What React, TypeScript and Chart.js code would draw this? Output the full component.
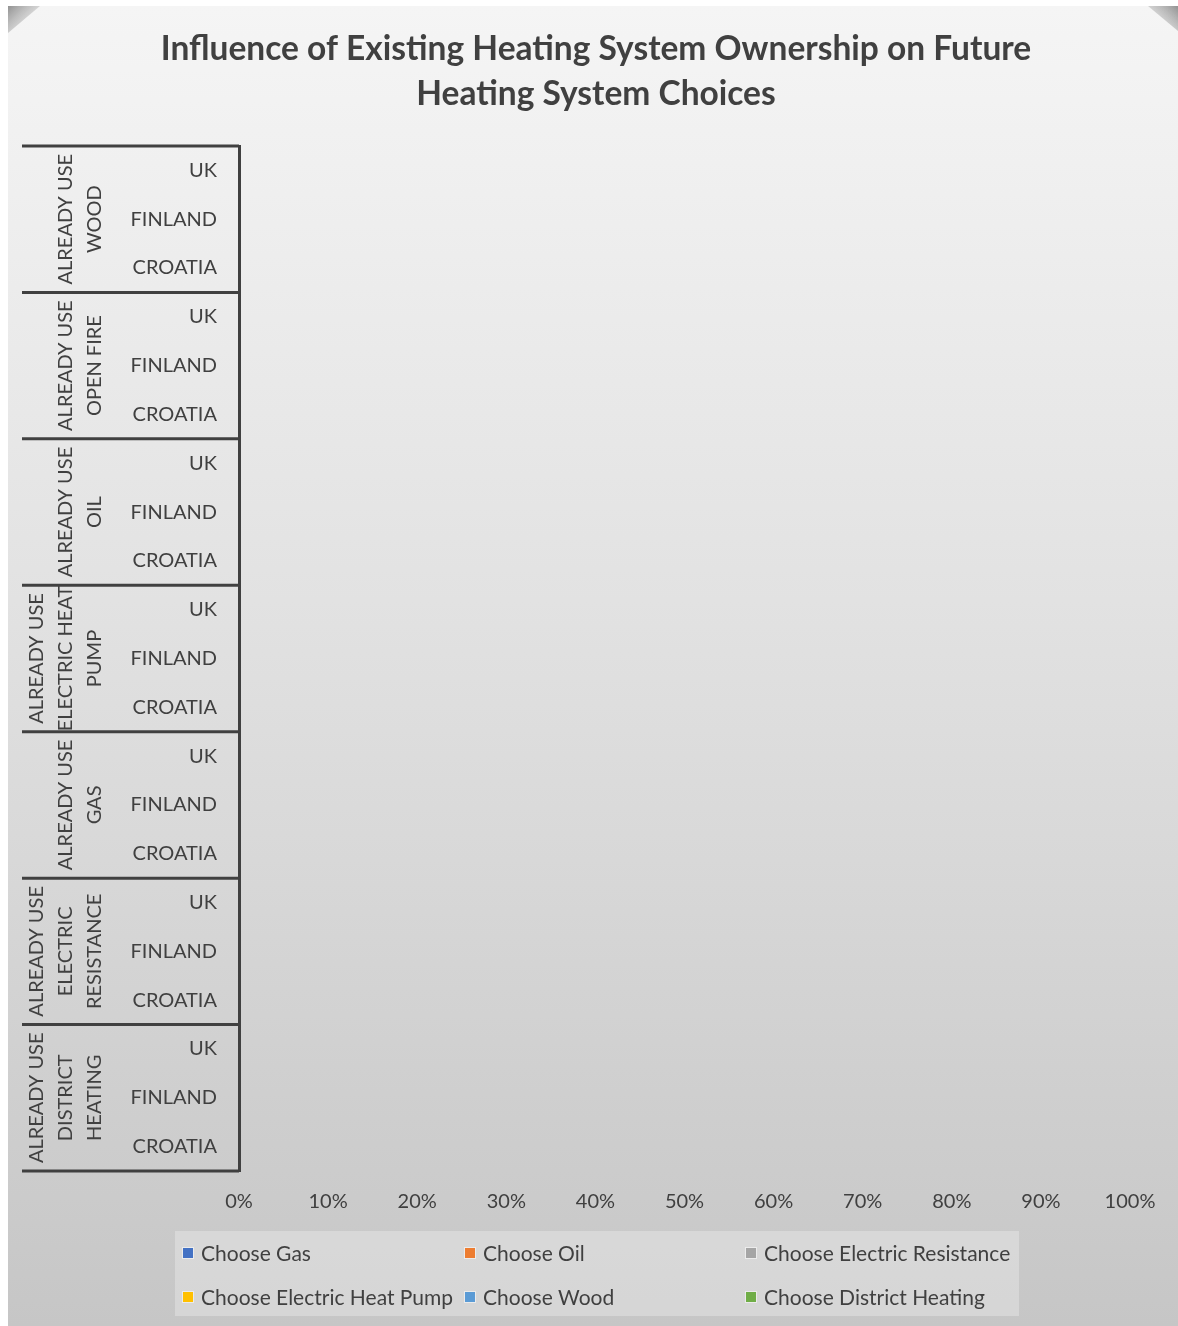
import React, { useEffect, useRef } from "react";
import { Chart, registerables } from "chart.js";

Chart.register(...registerables);

const titleLines = [
  "Influence of Existing Heating System Ownership on Future",
  "Heating System Choices",
];

const countries = ["UK", "FINLAND", "CROATIA"];

const groupLabels: string[][] = [
  ["ALREADY USE", "WOOD"],
  ["ALREADY USE", "OPEN FIRE"],
  ["ALREADY USE", "OIL"],
  ["ALREADY USE", "ELECTRIC HEAT", "PUMP"],
  ["ALREADY USE", "GAS"],
  ["ALREADY USE", "ELECTRIC", "RESISTANCE"],
  ["ALREADY USE", "DISTRICT", "HEATING"],
];

const xTicks = [0, 10, 20, 30, 40, 50, 60, 70, 80, 90, 100];

// Values (%) per category, top to bottom. No bars are visible in the reference.
const chooseGas = [0, 0, 0, 0, 0, 0, 0, 0, 0, 0, 0, 0, 0, 0, 0, 0, 0, 0, 0, 0, 0];
const chooseOil = [0, 0, 0, 0, 0, 0, 0, 0, 0, 0, 0, 0, 0, 0, 0, 0, 0, 0, 0, 0, 0];
const chooseElectricResistance = [0, 0, 0, 0, 0, 0, 0, 0, 0, 0, 0, 0, 0, 0, 0, 0, 0, 0, 0, 0, 0];
const chooseElectricHeatPump = [0, 0, 0, 0, 0, 0, 0, 0, 0, 0, 0, 0, 0, 0, 0, 0, 0, 0, 0, 0, 0];
const chooseWood = [0, 0, 0, 0, 0, 0, 0, 0, 0, 0, 0, 0, 0, 0, 0, 0, 0, 0, 0, 0, 0];
const chooseDistrictHeating = [0, 0, 0, 0, 0, 0, 0, 0, 0, 0, 0, 0, 0, 0, 0, 0, 0, 0, 0, 0, 0];

const seriesNames = [
  "Choose Gas",
  "Choose Oil",
  "Choose Electric Resistance",
  "Choose Electric Heat Pump",
  "Choose Wood",
  "Choose District Heating",
];
const seriesColors = ["#4472C4", "#ED7D31", "#A5A5A5", "#FFC000", "#5B9BD5", "#70AD47"];
const seriesValues = [
  chooseGas,
  chooseOil,
  chooseElectricResistance,
  chooseElectricHeatPump,
  chooseWood,
  chooseDistrictHeating,
];

const FONT = "Lato, 'Open Sans', sans-serif";
const TEXT = "#404040";

const decorPlugin = {
  id: "decor",
  beforeDraw(chart: any) {
    const ctx = chart.ctx;
    const W = chart.width;
    ctx.save();
    // bevel corner triangles
    const g1 = ctx.createLinearGradient(0, 0, 22, 22);
    g1.addColorStop(0, "rgba(140,140,140,0.95)");
    g1.addColorStop(1, "rgba(190,190,190,0.3)");
    ctx.fillStyle = g1;
    ctx.beginPath();
    ctx.moveTo(0, 0);
    ctx.lineTo(32, 0);
    ctx.lineTo(0, 27);
    ctx.closePath();
    ctx.fill();
    const g2 = ctx.createLinearGradient(W, 0, W - 22, 22);
    g2.addColorStop(0, "rgba(140,140,140,0.95)");
    g2.addColorStop(1, "rgba(190,190,190,0.3)");
    ctx.fillStyle = g2;
    ctx.beginPath();
    ctx.moveTo(W, 0);
    ctx.lineTo(W - 30, 0);
    ctx.lineTo(W, 25);
    ctx.closePath();
    ctx.fill();
    // title
    ctx.fillStyle = TEXT;
    ctx.font = `bold 33.5px ${FONT}`;
    ctx.textAlign = "center";
    ctx.textBaseline = "middle";
    titleLines.forEach((t, i) => ctx.fillText(t, 588, 43 + i * 45));
    ctx.restore();
  },
  afterDraw(chart: any) {
    const ctx = chart.ctx;
    const y = chart.scales.y;
    const n = countries.length;
    const total = chart.data.labels.length;
    ctx.save();
    // group separators
    ctx.strokeStyle = TEXT;
    ctx.lineWidth = 3;
    for (let i = 0; i <= total; i += n) {
      let py: number;
      if (i === 0) py = y.top;
      else if (i === total) py = y.bottom;
      else py = (y.getPixelForTick(i - 1) + y.getPixelForTick(i)) / 2;
      ctx.beginPath();
      ctx.moveTo(14, py);
      ctx.lineTo(y.right, py);
      ctx.stroke();
    }
    // group labels (rotated)
    ctx.fillStyle = TEXT;
    ctx.font = `20px ${FONT}`;
    ctx.textAlign = "center";
    ctx.textBaseline = "middle";
    groupLabels.forEach((lines, gi) => {
      const cy = y.getPixelForTick(gi * n + 1);
      lines.forEach((line, li) => {
        const cx = 87 - (lines.length - 1 - li) * 29;
        ctx.save();
        ctx.translate(cx, cy);
        ctx.rotate(-Math.PI / 2);
        ctx.fillText(line, 0, 0);
        ctx.restore();
      });
    });
    // legend
    const lx = 167, ly = 1225, lw = 844, lh = 85;
    ctx.fillStyle = "rgba(255,255,255,0.28)";
    ctx.fillRect(lx, ly, lw, lh);
    const colX = [175, 457, 738];
    const rowY = [1247, 1291];
    ctx.textAlign = "left";
    ctx.font = `21px ${FONT}`;
    chart.data.datasets.forEach((ds: any, i: number) => {
      const cx = colX[i % 3];
      const cy = rowY[Math.floor(i / 3)];
      ctx.fillStyle = "rgba(255,255,255,0.5)";
      ctx.fillRect(cx - 1, cy - 6, 12, 12);
      ctx.fillStyle = ds.backgroundColor;
      ctx.fillRect(cx, cy - 5, 10, 10);
      ctx.fillStyle = TEXT;
      ctx.fillText(ds.label, cx + 18, cy + 1);
    });
    ctx.restore();
  },
};

export default function App() {
  const ref = useRef<HTMLCanvasElement | null>(null);
  useEffect(() => {
    if (!ref.current) return;
    const labels: string[] = [];
    groupLabels.forEach(() => countries.forEach((c) => labels.push(c)));
    const chart = new Chart(ref.current, {
      type: "bar",
      data: {
        labels,
        datasets: seriesNames.map((name, i) => ({
          label: name,
          data: seriesValues[i],
          backgroundColor: seriesColors[i],
          borderWidth: 0,
        })),
      },
      options: {
        indexAxis: "y",
        responsive: false,
        animation: false,
        devicePixelRatio: 1,
        layout: { padding: { left: 0, right: 48, top: 140, bottom: 93 } },
        plugins: {
          legend: { display: false },
          tooltip: { enabled: false },
          title: { display: false },
        },
        scales: {
          x: {
            stacked: true,
            min: 0,
            max: 100,
            afterBuildTicks(scale: any) {
              scale.ticks = xTicks.map((v) => ({ value: v }));
            },
            grid: { display: false, drawTicks: false },
            border: { display: false },
            ticks: {
              padding: 19,
              color: TEXT,
              font: { family: FONT, size: 20 },
              callback: (v: any) => `${v}%`,
              maxRotation: 0,
            },
          },
          y: {
            stacked: true,
            afterFit(scale: any) {
              scale.width = 231;
            },
            grid: { display: false, drawTicks: false },
            border: { display: true, color: TEXT, width: 3 },
            ticks: {
              padding: 22,
              color: TEXT,
              font: { family: FONT, size: 20 },
              autoSkip: false,
            },
          },
        },
      },
      plugins: [decorPlugin],
    } as any);
    return () => chart.destroy();
  }, []);
  return (
    <div
      style={{
        position: "absolute",
        left: 8,
        top: 6,
        width: 1170,
        height: 1320,
        overflow: "hidden",
        background: "linear-gradient(180deg, #f5f5f5 0%, #e2e2e2 45%, #c6c6c6 100%)",
      }}
    >
      <canvas ref={ref} width={1170} height={1320} style={{ display: "block" }} />
    </div>
  );
}
